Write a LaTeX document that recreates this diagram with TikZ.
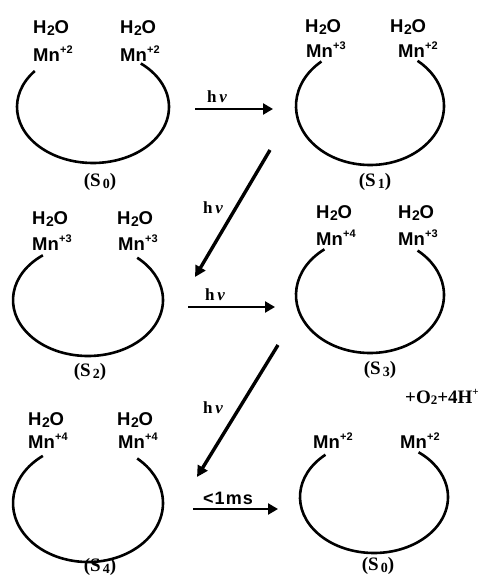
\documentclass[tikz,border=0pt]{standalone}
\usepackage{fontspec}
\setmainfont{Liberation Sans}
\newfontfamily\serifb{Liberation Serif}
\usetikzlibrary{arrows.meta}
\newcommand{\wat}{H\kern0.5pt\raisebox{-2pt}{\fontsize{14}{14}\selectfont 2}\kern-0.3pt O}
\newcommand{\mnox}[1]{Mn\kern0.3pt\raisebox{8pt}{\fontsize{11}{11}\selectfont +#1}}
\newcommand{\slabel}[1]{(S\kern2pt\raisebox{-2pt}{\fontsize{14}{14}\selectfont #1})}
\begin{document}
\begin{tikzpicture}[x=1pt,y=-1pt,
  ring/.style={line width=2.6pt},
  chem/.style={font=\bfseries\fontsize{18.5}{18.5}\selectfont, inner sep=0pt, anchor=base west},
  slab/.style={font=\serifb\bfseries\fontsize{19}{19}\selectfont, inner sep=0pt},
  harr/.style={line width=2.4pt, -{Triangle[length=10pt,width=11pt]}},
  darr/.style={line width=3.4pt, -{Triangle[length=11pt,width=11pt]}},
  rlab/.style={font=\serifb\bfseries\fontsize{17}{17}\selectfont, inner sep=0pt}]
\useasboundingbox (0,0) rectangle (486,577);

% ---- S0 (top left)
\draw[ring] (93,107) ++(220:76 and 56) arc[start angle=220, end angle=-51, x radius=76, y radius=56];
\node[chem] (w1a) at (33,34) {\wat};
\node[chem] (w1b) at (120,34) {\wat};
\node[chem] (m1a) at (33,62) {\mnox{2}};
\node[chem] (m1b) at (120,62) {\mnox{2}};
\node[slab] (s0) at (100,182) {\slabel{0}};

% ---- S1 (top right)
\draw[ring] (370,106) ++(229:74 and 59) arc[start angle=229, end angle=-50, x radius=74, y radius=59];
\node[chem] (w2a) at (305,33) {\wat};
\node[chem] (w2b) at (390,33) {\wat};
\node[chem] (m2a) at (306,58) {\mnox{3}};
\node[chem] (m2b) at (398,58) {\mnox{2}};
\node[slab] (s1) at (375,182) {\slabel{1}};

% ---- S2 (middle left)
\draw[ring] (88,300) ++(233:75 and 56) arc[start angle=233, end angle=-49, x radius=75, y radius=56];
\node[chem] (w3a) at (32,224) {\wat};
\node[chem] (w3b) at (117,224) {\wat};
\node[chem] (m3a) at (32,250) {\mnox{3}};
\node[chem] (m3b) at (118,250) {\mnox{3}};
\node[slab] (s2) at (90,372) {\slabel{2}};

% ---- S3 (middle right)
\draw[ring] (370,295) ++(232:74 and 58) arc[start angle=232, end angle=-50, x radius=74, y radius=58];
\node[chem] (w4a) at (316,218) {\wat};
\node[chem] (w4b) at (398,218) {\wat};
\node[chem] (m4a) at (316,245) {\mnox{4}};
\node[chem] (m4b) at (398,245) {\mnox{3}};
\node[slab] (s3) at (380,370) {\slabel{3}};

% ---- S4 (bottom left)
\draw[ring] (88,503) ++(233:75 and 59) arc[start angle=233, end angle=-49, x radius=75, y radius=59];
\node[chem] (w5a) at (28,425) {\wat};
\node[chem] (w5b) at (117,425) {\wat};
\node[chem] (m5a) at (28,448) {\mnox{4}};
\node[chem] (m5b) at (118,448) {\mnox{4}};
\node[slab] (s4) at (100,567) {\slabel{4}};

% ---- S0 (bottom right)
\draw[ring] (374,497) ++(229:74 and 56) arc[start angle=229, end angle=-53, x radius=74, y radius=56];
\node[chem] (m6a) at (313,448) {\mnox{2}};
\node[chem] (m6b) at (400,448) {\mnox{2}};
\node[inner sep=0pt, anchor=base west, font=\serifb\bfseries\fontsize{19}{19}\selectfont] (o2) at (405,403)
  {+O\raisebox{-1.5pt}{\fontsize{13}{13}\selectfont 2}+4H\raisebox{8pt}{\fontsize{11}{11}\selectfont +}};
\node[slab] (s0b) at (378,566) {\slabel{0}};

% ---- arrows
\coordinate (a1s) at (195,109); \coordinate (a1e) at (273,109);
\coordinate (d1s) at (270,150); \coordinate (d1e) at (195,277);
\coordinate (a2s) at (188,307); \coordinate (a2e) at (275,307);
\coordinate (d2s) at (278,345); \coordinate (d2e) at (197,477);
\coordinate (a3s) at (193,509); \coordinate (a3e) at (278,509);
\draw[harr] (a1s) -- (a1e);
\draw[darr] (d1s) -- (d1e);
\draw[harr] (a2s) -- (a2e);
\draw[darr] (d2s) -- (d2e);
\draw[harr] (a3s) -- (a3e);
\node[rlab] (l1) at (217,97) {h\,\textit{ν}};
\node[rlab] (l2) at (213,208) {h\,\textit{ν}};
\node[rlab] (l3) at (215,295) {h\,\textit{ν}};
\node[rlab] (l4) at (213,408) {h\,\textit{ν}};
\node[font=\bfseries\fontsize{18}{18}\selectfont\addfontfeature{LetterSpace=6}, inner sep=0pt] (l5) at (228,498) {<1ms};
\end{tikzpicture}
\end{document}
